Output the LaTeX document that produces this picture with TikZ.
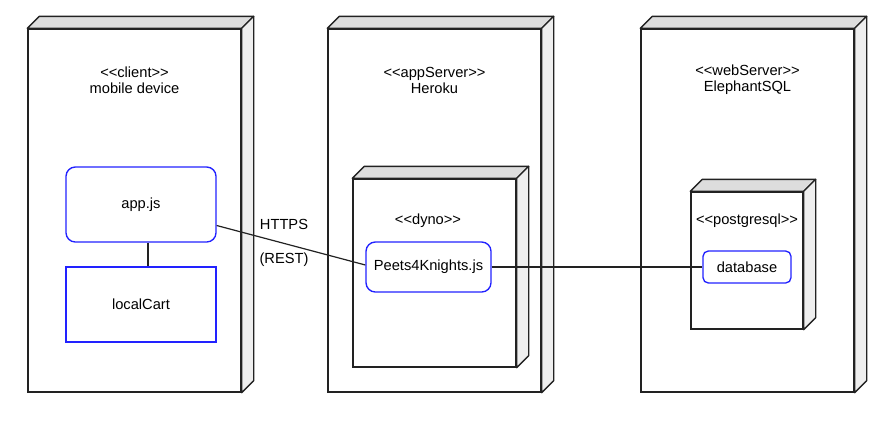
\documentclass[tikz,border=0pt]{standalone}
\usepackage{fontspec}
\setmainfont{Liberation Sans}
\usetikzlibrary{fit,calc}
\newcommand\stl{<\kern0pt<}
\newcommand\str{>\kern0pt>}
\definecolor{edge}{HTML}{222222}
\definecolor{topgray}{HTML}{DDDDDD}
\definecolor{sidegray}{HTML}{EEEEEE}
\definecolor{compblue}{HTML}{2222FF}
\tikzset{
  front/.style={draw=edge, fill=white, line width=1pt, inner sep=0pt},
  topface/.style={draw=edge, fill=topgray, line width=1pt, line join=round},
  sideface/.style={draw=edge, fill=sidegray, line width=1pt, line join=round},
  comp/.style={draw=compblue, fill=white, line width=1pt, inner sep=0pt, rounded corners=7pt},
  compsq/.style={draw=compblue, fill=white, line width=1pt, inner sep=0pt},
  lbl/.style={font=\fontsize{11}{12}\selectfont, align=center, inner sep=0pt},
  wire/.style={draw=edge, line width=0.9pt}
}
\newcommand\depthbox[1]{%
  \path[topface] (#1.north west) -- ++(12,-12) -- ($(#1.north east)+(12,-12)$) -- (#1.north east) -- cycle;
  \path[sideface] (#1.north east) -- ++(12,-12) -- ($(#1.south east)+(12,-12)$) -- (#1.south east) -- cycle;
}
\begin{document}
\begin{tikzpicture}[x=0.75pt,y=-0.75pt]
\useasboundingbox (0,0) rectangle (891,425);
% outer nodes
\node[front, fit={(28,29)(241,392)}] (client) {};
\depthbox{client}
\node[front, fit={(328,29)(541,392)}] (appsrv) {};
\depthbox{appsrv}
\node[front, fit={(641,29)(854,392)}] (websrv) {};
\depthbox{websrv}
\node[lbl] (clientlbl) at (134.5,80) {\stl client\str\\mobile device};
\node[lbl] (appsrvlbl) at (434.5,80) {\stl appServer\str\\Heroku};
\node[lbl] (websrvlbl) at (747.5,80) {\stl webServer\str\\ElephantSQL};
% inner nodes
\node[front, fit={(353,179)(516,367)}] (dyno) {};
\depthbox{dyno}
\node[lbl] (dynolbl) at (428,221) {\stl dyno\str};
\node[front, fit={(691,192)(803,329)}] (pg) {};
\depthbox{pg}
\node[lbl] (pglbl) at (747,221) {\stl postgresql\str};
% components
\node[comp, fit={(66,167)(216,242)}] (app) {};
\node[lbl] at (app.center) {app.js};
\node[compsq, fit={(66,267)(216,342)}] (cart) {};
\node[lbl] at (cart.center) {localCart};
\node[comp, fit={(366,242)(491,292)}] (peets) {};
\node[lbl] at (peets.center) {Peets4Knights.js};
\node[comp, rounded corners=4pt, fit={(703,251)(791,283)}] (db) {};
\node[lbl] at (db.center) {database};
% connectors
\draw[wire] ($(app.south)+(7,0)$) -- ($(cart.north)+(7,0)$);
\draw[wire] ($(app.east)+(0,21)$) -- ($(peets.west)+(0,-2)$);
\draw[wire] (peets.east) -- (db.west);
\node[lbl] (https) at (284,224) {HTTPS};
\node[lbl] (rest) at (284,260) {(REST)};
\end{tikzpicture}
\end{document}
